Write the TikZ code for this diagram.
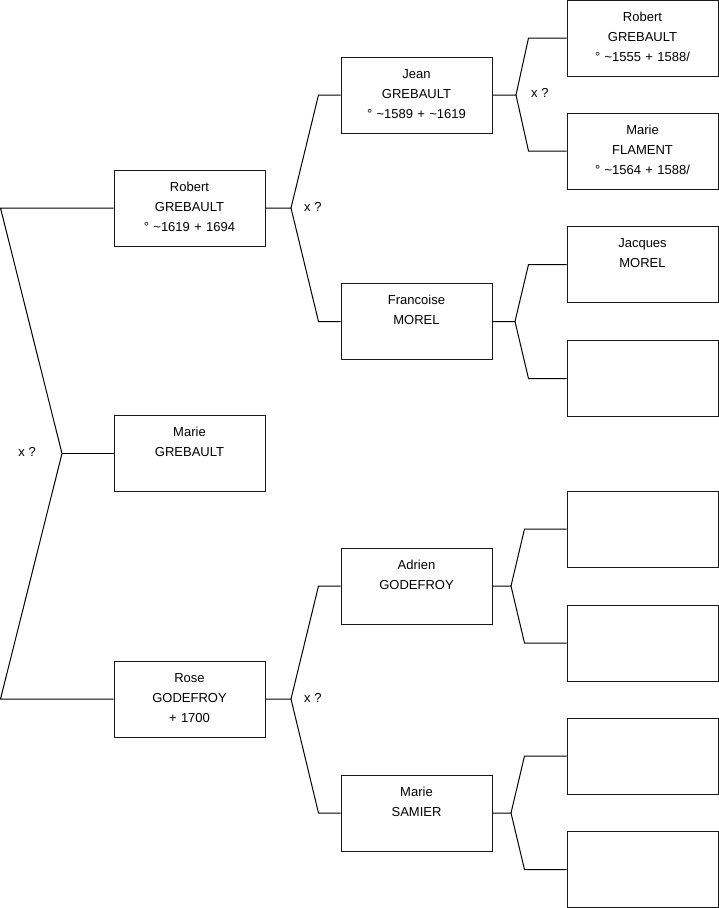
\documentclass[tikz,border=0pt]{standalone}
\usepackage{fontspec}
\setmainfont{Liberation Sans}

\begin{document}
\begin{tikzpicture}[x=1pt,y=-1pt,
        person/.style={draw=black!90,line width=1pt,text width=151pt,inner xsep=0pt,inner ysep=8pt,
            align=center,text height=13pt,text depth=47pt,font=\fontsize{13}{20}\selectfont},
        link/.style={draw=black,line width=1pt},
        union/.style={font=\fontsize{13}{20}\selectfont,inner sep=0pt}]
        \useasboundingbox (0,0) rectangle (719,908);
        \node[person] (robert) at (189.5,208) {Robert\\GREBAULT\\° \textasciitilde1619 + 1694};
        \node[person] (marie) at (189.5,453.5) {Marie\\GREBAULT};
        \node[person] (rose) at (189.5,699) {Rose\\GODEFROY\\+ 1700};
        \node[person] (jean) at (416.5,95) {Jean\\GREBAULT\\° \textasciitilde1589 + \textasciitilde1619};
        \node[person] (francoise) at (416.5,321.5) {Francoise\\MOREL};
        \node[person] (adrien) at (416.5,586) {Adrien\\GODEFROY};
        \node[person] (samier) at (416.5,813) {Marie\\SAMIER};
        \node[person] (robertG) at (642.5,38) {Robert\\GREBAULT\\° \textasciitilde1555 + 1588/};
        \node[person] (flament) at (642.5,151) {Marie\\FLAMENT\\° \textasciitilde1564 + 1588/};
        \node[person] (jacques) at (642.5,264.5) {Jacques\\MOREL};
        \node[person] (blankA) at (642.5,378.5) {};
        \node[person] (blankB) at (642.5,529) {};
        \node[person] (blankC) at (642.5,643) {};
        \node[person] (blankD) at (642.5,756) {};
        \node[person] (blankE) at (642.5,869.5) {};
        \coordinate (edgeT) at (0.5,208);
        \coordinate (edgeB) at (0.5,699);
        \coordinate (fk0) at (62,453.5);
        \coordinate (fkA) at (291,208);
        \coordinate (fkB) at (291,699);
        \coordinate (fkC) at (516,95);
        \coordinate (fkD) at (515,321.5);
        \coordinate (fkE) at (511,586);
        \coordinate (fkF) at (511,813);
        \draw[link] (robert.west) -- (edgeT) -- (fk0) -- (edgeB) -- (rose.west);
        \draw[link] (fk0) -- (marie.west);
        \draw[link] (robert.east) -- (fkA) -- ([xshift=-22pt]jean.west) -- (jean.west);
        \draw[link] (fkA) -- ([xshift=-22pt]francoise.west) -- (francoise.west);
        \draw[link] (rose.east) -- (fkB) -- ([xshift=-22pt]adrien.west) -- (adrien.west);
        \draw[link] (fkB) -- ([xshift=-22pt]samier.west) -- (samier.west);
        \draw[link] (jean.east) -- (fkC) -- ([xshift=-38pt]robertG.west) -- (robertG.west);
        \draw[link] (fkC) -- ([xshift=-38pt]flament.west) -- (flament.west);
        \draw[link] (francoise.east) -- (fkD) -- ([xshift=-38pt]jacques.west) -- (jacques.west);
        \draw[link] (fkD) -- ([xshift=-38pt]blankA.west) -- (blankA.west);
        \draw[link] (adrien.east) -- (fkE) -- ([xshift=-42pt]blankB.west) -- (blankB.west);
        \draw[link] (fkE) -- ([xshift=-42pt]blankC.west) -- (blankC.west);
        \draw[link] (samier.east) -- (fkF) -- ([xshift=-42pt]blankD.west) -- (blankD.west);
        \draw[link] (fkF) -- ([xshift=-42pt]blankE.west) -- (blankE.west);
        \node[union,anchor=east] (x0) at ([xshift=-26pt,yshift=1.5pt]fk0) {x ?};
        \node[union,anchor=west] (xA) at ([xshift=13pt,yshift=1.5pt]fkA) {x ?};
        \node[union,anchor=west] (xB) at ([xshift=13pt,yshift=1.5pt]fkB) {x ?};
        \node[union,anchor=west] (xC) at ([xshift=15pt,yshift=2.5pt]fkC) {x ?};
\end{tikzpicture}
\end{document}
